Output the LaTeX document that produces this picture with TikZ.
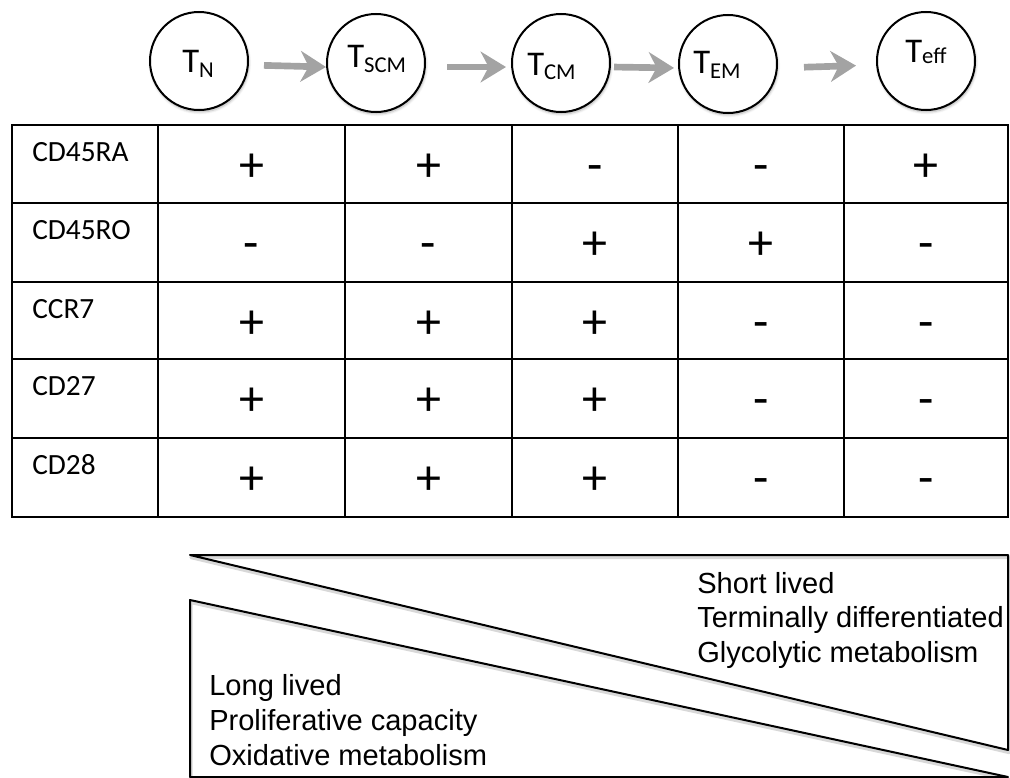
\documentclass[tikz,border=0pt]{standalone}
\usepackage{fontspec}
\setmainfont{Carlito}
\newfontfamily\arialf{Liberation Sans}
\usetikzlibrary{arrows.meta,shadows.blur}
\begin{document}
\begin{tikzpicture}[x=0.75pt,y=-0.75pt,
  cell/.style={circle, draw, line width=1.5pt, minimum size=73.5pt, inner sep=0pt, fill=white,
    blur shadow={shadow xshift=0.6pt, shadow yshift=-1.5pt, shadow blur steps=6, shadow opacity=30}},
  tl/.style={anchor=base west, inner sep=0pt, font=\fontsize{26}{30}\selectfont},
  flow/.style={draw=black!36, line width=5pt, -{Stealth[length=19pt,width=23pt,inset=6pt]}},
  rowlab/.style={anchor=base west, inner sep=0pt, font=\fontsize{22}{26}\selectfont},
  sym/.style={anchor=base, inner sep=0pt, font=\fontsize{37.5}{40}\selectfont},
  gridline/.style={line width=1.6pt},
  tri/.style={line width=1.5pt, line join=round},
  trishadow/.style={draw=black!30, line width=2.5pt, opacity=0.5, line join=round},
  note/.style={anchor=base west, inner sep=0pt, font=\arialf\fontsize{21.8}{25}\selectfont}]
\useasboundingbox (0,0) rectangle (1010,778);

% cell-type circles
\node[cell] (tn)   at (199,61) {};
\node[cell] (tscm) at (376,63) {};
\node[cell] (tcm)  at (561,63) {};
\node[cell] (tem)  at (728,64) {};
\node[cell] (teff) at (926,61) {};

\newcommand{\subtx}[2]{\raisebox{#1}{\fontsize{17}{20}\selectfont #2}}
\node[tl] (tnl)   at (182,72) {T\subtx{-3.75pt}{N}};
\node[tl] (tscml) at (347,67) {T\subtx{-3.75pt}{SCM}};
\node[tl] (tcml)  at (527,75) {T\subtx{-3pt}{CM}};
\node[tl] (teml)  at (693,73) {T\subtx{-3.75pt}{EM}};
\node[tl] (teffl) at (905,62) {T\subtx{-0.75pt}{eff}};

% arrows
\draw[flow, shorten <=11.25pt] ([yshift=-3pt]tn.east) -- ([yshift=-3pt]tscm.west);
\draw[flow, shorten <=15.75pt, shorten >=3.75pt] ([yshift=-3pt]tscm.east) -- ([yshift=-3pt]tcm.west);
\draw[flow, shorten <=2.25pt, shorten >=3pt] ([yshift=-3pt]tcm.east) -- ([yshift=-3pt]tem.west);
\draw[flow, shorten <=19.5pt, shorten >=15pt] ([yshift=-3pt]tem.east) -- ([yshift=-3pt]teff.west);

% table grid
\draw[gridline] (12,125) rectangle (1008,517);
\foreach \yy in {203,282,359,438} \draw[gridline] (12,\yy) -- (1008,\yy);
\foreach \xx in {158,345,512,678,844} \draw[gridline] (\xx,125) -- (\xx,517);

% table contents
\foreach \lab/\top/\vals [count=\i] in {CD45RA/125/{+,+,-,-,+}, CD45RO/203/{-,-,+,+,-}, CCR7/282/{+,+,+,-,-}, CD27/359/{+,+,+,-,-}, CD28/438/{+,+,+,-,-}} {
  \node[rowlab] (row\i) at (32,\top+36) {\lab};
  \foreach \s [count=\j] in \vals {
    \pgfmathsetmacro\cx{{251.5,428.5,595,761,926}[\j-1]}
    \node[sym] (v\i\j) at (\cx,\top+56) {\s};
  }
}

% gradient triangles
\draw[trishadow, shift={(1,2.5)}] (190,555) -- (1008,555) -- (1008,750) -- cycle;
\draw[trishadow, shift={(1,2.5)}] (190,600) -- (1008,777) -- (190,777) -- cycle;
\draw[tri] (190,555) -- (1008,555) -- (1008,750) -- cycle;
\draw[tri] (190,600) -- (1008,777) -- (190,777) -- cycle;

\node[note] (s1) at (697,593) {Short lived};
\node[note] (s2) at (697,627) {Terminally differentiated};
\node[note] (s3) at (697,662) {Glycolytic metabolism};
\node[note] (l1) at (209,695) {Long lived};
\node[note] (l2) at (209,730) {Proliferative capacity};
\node[note] (l3) at (209,765) {Oxidative metabolism};
\end{tikzpicture}
\end{document}
